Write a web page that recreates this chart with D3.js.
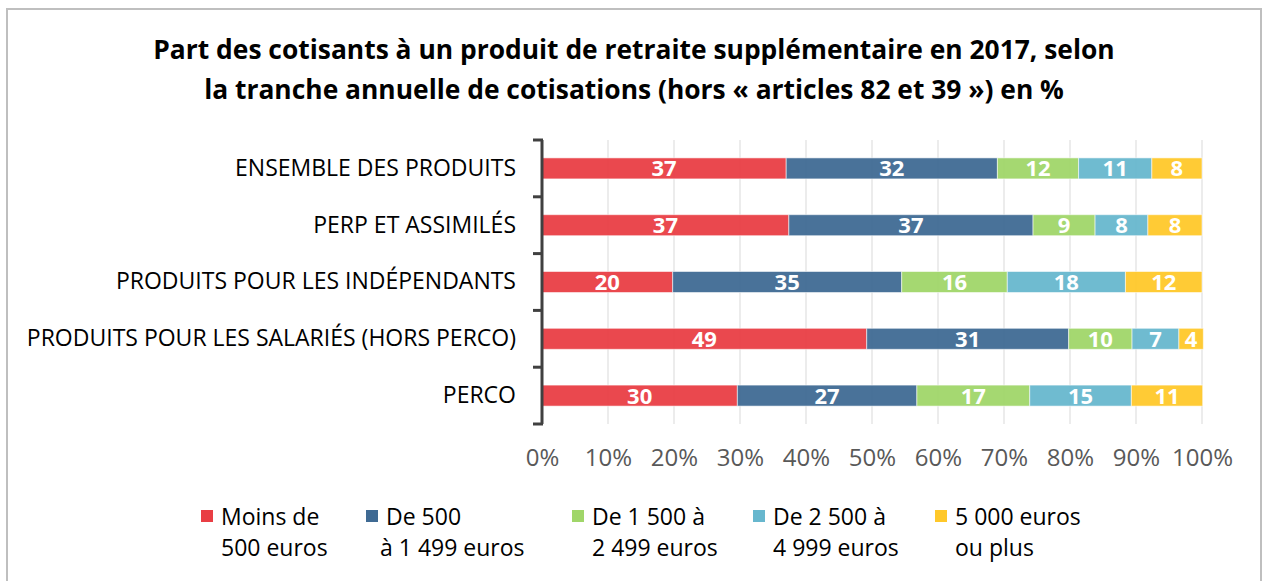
<!DOCTYPE html>
<html>
<head>
<meta charset="utf-8">
<script src="https://cdn.jsdelivr.net/npm/d3@7"></script>
<style>
  body { margin: 0; background: #fff; }
  svg { display: block; font-family: "Open Sans", Lato, sans-serif; }
</style>
</head>
<body>
<svg id="chart" width="1264" height="581"></svg>
<script>
// categories, top to bottom
const categories = [
  "ENSEMBLE DES PRODUITS",
  "PERP ET ASSIMILÉS",
  "PRODUITS POUR LES INDÉPENDANTS",
  "PRODUITS POUR LES SALARIÉS (HORS PERCO)",
  "PERCO"
];
// contribution brackets (legend)
const seriesNames = [
  ["Moins de", "500 euros"],
  ["De 500", "à 1 499 euros"],
  ["De 1 500 à", "2 499 euros"],
  ["De 2 500 à", "4 999 euros"],
  ["5 000 euros", "ou plus"]
];
const seriesColors = ["#E93E44", "#3F6A93", "#A0D669", "#67B7CE", "#FFC82A"];
// values per series, one per category
const lessThan500 = [37.0, 37.4, 19.8, 49.2, 29.6];
const from500 = [32.0, 37.0, 34.7, 30.6, 27.2];
const from1500 = [12.3, 9.4, 16.0, 9.6, 17.1];
const from2500 = [11.1, 8.0, 17.9, 7.1, 15.4];
const from5000 = [7.6, 8.2, 11.6, 3.7, 10.8];
// labels printed on the bars
const barLabels = [
  [37, 37, 20, 49, 30],
  [32, 37, 35, 31, 27],
  [12, 9, 16, 10, 17],
  [11, 8, 18, 7, 15],
  [8, 8, 12, 4, 11]
];
const xTicks = [0, 10, 20, 30, 40, 50, 60, 70, 80, 90, 100];

const series = [lessThan500, from500, from1500, from2500, from5000];

const svg = d3.select("#chart");

// outer frame
svg.append("rect")
  .attr("x", 7).attr("y", 9)
  .attr("width", 1254).attr("height", 590)
  .attr("fill", "none")
  .attr("stroke", "#BFBFBF")
  .attr("stroke-width", 2);

// title
const title = svg.append("text")
  .attr("text-anchor", "middle")
  .attr("font-weight", "bold")
  .attr("font-size", 26.4)
  .attr("fill", "#000");
title.append("tspan").attr("x", 634).attr("y", 59)
  .text("Part des cotisants à un produit de retraite supplémentaire en 2017, selon");
title.append("tspan").attr("x", 634).attr("y", 99)
  .text("la tranche annuelle de cotisations (hors « articles 82 et 39 ») en %");

const x = d3.scaleLinear().domain([0, 100]).range([542, 1202]);
const y = d3.scaleBand()
  .domain(categories)
  .range([140, 424])
  .paddingInner(0.63)
  .paddingOuter(0.315);

// gridlines
svg.append("g")
  .selectAll("line")
  .data(xTicks)
  .join("line")
    .attr("x1", d => x(d)).attr("x2", d => x(d))
    .attr("y1", 140).attr("y2", 424)
    .attr("stroke", "#D9D9D9")
    .attr("stroke-width", 1);

// stacked bars
const stacks = categories.map((c, i) => {
  let acc = 0;
  return series.map((s, k) => {
    const d = { cat: c, k: k, x0: acc, x1: acc + s[i], label: barLabels[k][i] };
    acc += s[i];
    return d;
  });
});

const rows = svg.append("g")
  .selectAll("g")
  .data(stacks)
  .join("g");

rows.selectAll("rect")
  .data(d => d)
  .join("rect")
    .attr("x", d => x(d.x0))
    .attr("y", d => y(d.cat))
    .attr("width", d => x(d.x1) - x(d.x0))
    .attr("height", y.bandwidth())
    .attr("fill", d => seriesColors[d.k])
    .attr("fill-opacity", 0.95)
    .attr("stroke", "#fff")
    .attr("stroke-opacity", 0.55)
    .attr("stroke-width", 1);

rows.selectAll("text")
  .data(d => d)
  .join("text")
    .attr("x", d => (x(d.x0) + x(d.x1)) / 2)
    .attr("y", d => y(d.cat) + y.bandwidth() / 2)
    .attr("dy", "0.36em")
    .attr("text-anchor", "middle")
    .attr("font-weight", "bold")
    .attr("font-size", 22)
    .attr("fill", "#fff")
    .text(d => d.label);

// category axis with labels
svg.append("g")
  .attr("transform", "translate(542,0)")
  .call(d3.axisLeft(y).tickSize(0).tickPadding(26))
  .call(g => g.select(".domain").remove())
  .call(g => g.selectAll("text")
    .attr("font-size", 23)
    .attr("font-family", "'Open Sans', Lato, sans-serif")
    .attr("fill", "#000"));

// axis line with boundary ticks
const bounds = d3.range(categories.length + 1).map(i => 140 + i * y.step());
svg.append("line")
  .attr("x1", 542).attr("x2", 542)
  .attr("y1", bounds[0]).attr("y2", bounds[bounds.length - 1])
  .attr("stroke", "#404040").attr("stroke-width", 3);
svg.append("g")
  .selectAll("line")
  .data(bounds)
  .join("line")
    .attr("x1", 533).attr("x2", 543)
    .attr("y1", d => d).attr("y2", d => d)
    .attr("stroke", "#404040").attr("stroke-width", 3);

// percent axis
svg.append("g")
  .attr("transform", "translate(0,424)")
  .call(d3.axisBottom(x).tickValues(xTicks).tickSize(0).tickPadding(25).tickFormat(d => d + "%"))
  .call(g => g.select(".domain").remove())
  .call(g => g.selectAll("text")
    .attr("font-size", 24)
    .attr("font-family", "'Open Sans', Lato, sans-serif")
    .attr("fill", "#595959"));

// legend
const legendX = [201, 366, 572, 753, 935];
const legend = svg.append("g")
  .selectAll("g")
  .data(seriesNames)
  .join("g")
    .attr("transform", (d, i) => `translate(${legendX[i]},0)`);

legend.append("rect")
  .attr("x", 0).attr("y", 510)
  .attr("width", 12).attr("height", 12)
  .attr("fill", (d, i) => seriesColors[i]);

legend.append("text")
  .attr("x", 20).attr("y", 525)
  .attr("font-size", 23)
  .attr("fill", "#000")
  .text(d => d[0]);

legend.append("text")
  .attr("x", (d, i) => i === 1 ? 14 : 20).attr("y", 556)
  .attr("font-size", 23)
  .attr("fill", "#000")
  .text(d => d[1]);
</script>
</body>
</html>
